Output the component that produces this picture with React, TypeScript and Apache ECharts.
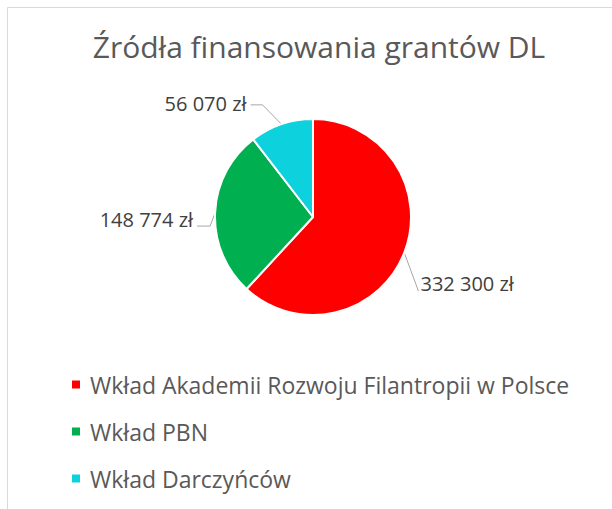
import React, { useEffect, useRef } from "react";
import * as echarts from "echarts";

const titleText = "Źródła finansowania grantów DL";
const categories = [
  "Wkład Akademii Rozwoju Filantropii w Polsce",
  "Wkład PBN",
  "Wkład Darczyńców",
];
const values = [332300, 148774, 56070];
const colors = ["#FF0000", "#00B050", "#0DD1DC"];
// label nudges (dx, dy) to mimic the original label placement
const labelShift = [
  [-9, 26],
  [4, 7],
  [-17, -9],
];

function fmt(v: number): string {
  return v.toString().replace(/\B(?=(\d{3})+(?!\d))/g, " ") + " zł";
}

export default function App() {
  const ref = useRef<HTMLDivElement>(null);
  useEffect(() => {
    if (!ref.current) return;
    const chart = echarts.init(ref.current, undefined, { renderer: "svg" });
    chart.setOption({
      animation: false,
      backgroundColor: "#ffffff",
      title: {
        text: titleText,
        left: 314,
        textAlign: "center",
        top: 26,
        textStyle: {
          fontFamily: "Open Sans",
          fontSize: 30,
          fontWeight: "normal",
          color: "#595959",
        },
      },
      legend: {
        orient: "vertical",
        left: 65,
        top: 368,
        itemWidth: 10,
        itemHeight: 10,
        itemGap: 24,
        icon: "rect",
        data: categories,
        textStyle: {
          fontFamily: "Open Sans",
          fontSize: 23,
          color: "#595959",
          padding: [0, 0, 0, 4],
        },
      },
      graphic: [
        {
          type: "line",
          shape: { x1: 7.5, y1: 7.5, x2: 612, y2: 7.5 },
          style: { stroke: "#d9d9d9", lineWidth: 1 },
        },
        {
          type: "line",
          shape: { x1: 7.5, y1: 7.5, x2: 7.5, y2: 509 },
          style: { stroke: "#d9d9d9", lineWidth: 1 },
        },
      ],
      series: [
        {
          type: "pie",
          center: [313, 217],
          radius: 98,
          startAngle: 90,
          clockwise: true,
          data: categories.map((c, i) => ({
            name: c,
            value: values[i],
            itemStyle: { color: colors[i] },
          })),
          itemStyle: { borderColor: "#ffffff", borderWidth: 2 },
          label: {
            show: true,
            position: "outside",
            formatter: (p: any) => fmt(p.value),
            fontFamily: "Open Sans",
            fontSize: 20,
            color: "#404040",
            distanceToLabelLine: 4,
          },
          labelLine: {
            show: true,
            length: 12,
            length2: 10,
            lineStyle: { color: "#a6a6a6", width: 1 },
          },
          labelLayout: (p: any) => {
            const i = p.dataIndex;
            const dx = labelShift[i][0];
            const dy = labelShift[i][1];
            const r = p.labelRect;
            const left = r.x + dx;
            const right = r.x + r.width + dx;
            const cy = r.y + r.height / 2 + dy;
            const p0 = p.labelLinePoints ? p.labelLinePoints[0] : [left, cy];
            let pts: number[][];
            if (i === 0) {
              const end = [left - 2, cy + 8];
              pts = [p0, [(p0[0] + end[0]) / 2, (p0[1] + end[1]) / 2], end];
            } else if (i === 1) {
              const end = [right + 4, cy + 7];
              pts = [p0, [end[0] + 13, end[1]], end];
            } else {
              const end = [right + 4, cy + 1];
              pts = [p0, [end[0] + 12, end[1]], end];
            }
            return { dx, dy, labelLinePoints: pts };
          },
          emphasis: { disabled: true },
        },
      ],
    });
    return () => chart.dispose();
  }, []);
  return (
    <div
      ref={ref}
      style={{ position: "absolute", left: 0, top: 0, width: 612, height: 509 }}
    />
  );
}
